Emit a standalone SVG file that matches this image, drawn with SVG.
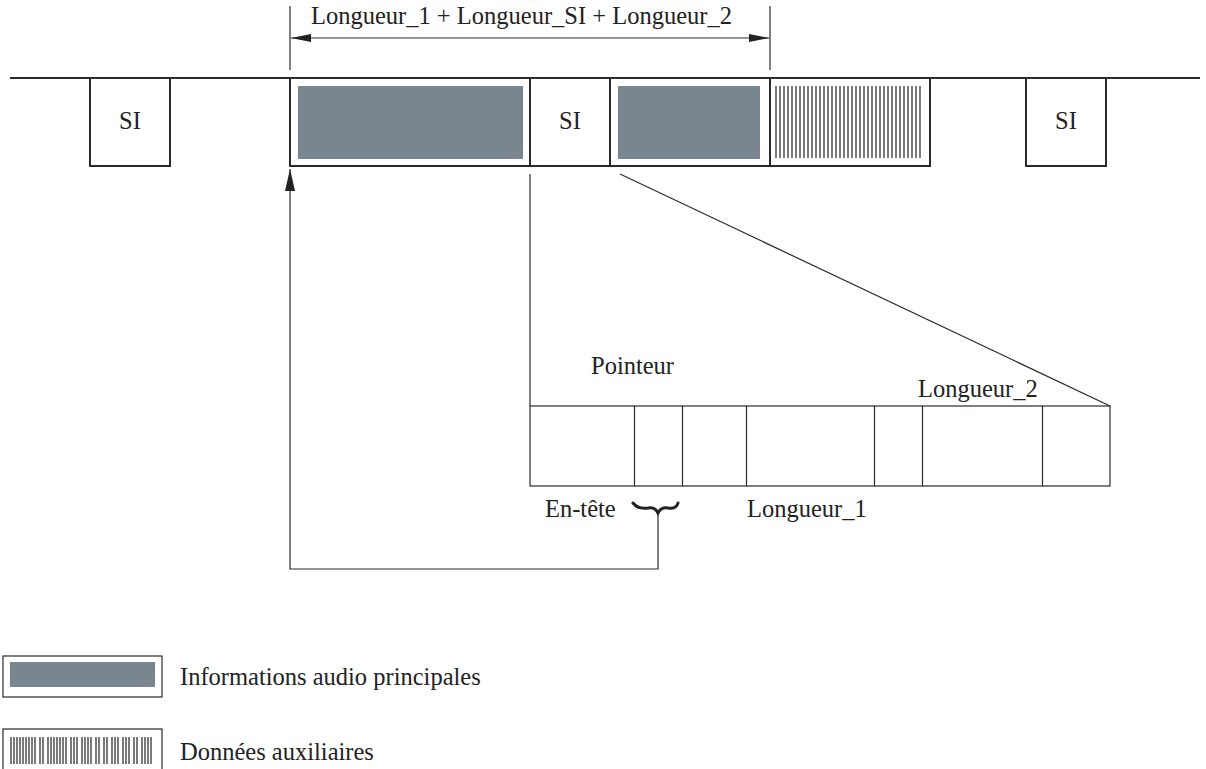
<svg xmlns="http://www.w3.org/2000/svg" width="1206" height="769" viewBox="0 0 1206 769">
<defs>
<style>
text{font-family:"Liberation Serif","Times New Roman",serif;font-size:24.5px;fill:#222}
.box{fill:none;stroke:#2a2a2a;stroke-width:2}
.thin{fill:none;stroke:#2a2a2a;stroke-width:1.2}
.gray{fill:#7a868f}
.hatch line{stroke:#222;stroke-width:1.2}
.conn{fill:none;stroke:#2a2a2a;stroke-width:1.2}
</style>
<marker id="ah" viewBox="0 0 22 10" refX="22" refY="5" markerWidth="22" markerHeight="10" markerUnits="userSpaceOnUse" orient="auto">
<path d="M0,0 L22,5 L0,10 Z" fill="#222"/>
</marker>
<marker id="ahs" viewBox="0 0 20 8" refX="20" refY="4" markerWidth="20" markerHeight="8" markerUnits="userSpaceOnUse" orient="auto-start-reverse">
<path d="M0,0 L20,4 L0,8 Z" fill="#222"/>
</marker>
</defs>
<rect width="1206" height="769" fill="#fff"/>

<g id="baseline">
<line x1="10" y1="78" x2="1200" y2="78" stroke="#2a2a2a" stroke-width="2"/>
</g>

<g id="si-left">
<rect class="box" x="90" y="78" width="80" height="88"/>
<text x="130" y="129" text-anchor="middle">SI</text>
</g>

<g id="frame">
<rect class="box" x="290" y="78" width="640" height="88"/>
<line class="box" x1="530" y1="78" x2="530" y2="166"/>
<line class="box" x1="610" y1="78" x2="610" y2="166"/>
<line class="box" x1="770" y1="78" x2="770" y2="166"/>
<rect class="gray" x="298" y="86" width="225" height="73"/>
<text x="570" y="129" text-anchor="middle">SI</text>
<rect class="gray" x="618" y="86" width="142" height="73"/>
<g class="hatch" id="aux-hatch">
<line x1="776" y1="86" x2="776" y2="158"/><line x1="780" y1="86" x2="780" y2="158"/><line x1="784" y1="86" x2="784" y2="158"/><line x1="788" y1="86" x2="788" y2="158"/><line x1="792" y1="86" x2="792" y2="158"/><line x1="796" y1="86" x2="796" y2="158"/><line x1="800" y1="86" x2="800" y2="158"/><line x1="804" y1="86" x2="804" y2="158"/><line x1="808" y1="86" x2="808" y2="158"/><line x1="812" y1="86" x2="812" y2="158"/><line x1="816" y1="86" x2="816" y2="158"/><line x1="820" y1="86" x2="820" y2="158"/><line x1="824" y1="86" x2="824" y2="158"/><line x1="828" y1="86" x2="828" y2="158"/><line x1="832" y1="86" x2="832" y2="158"/><line x1="836" y1="86" x2="836" y2="158"/><line x1="840" y1="86" x2="840" y2="158"/><line x1="844" y1="86" x2="844" y2="158"/><line x1="848" y1="86" x2="848" y2="158"/><line x1="852" y1="86" x2="852" y2="158"/><line x1="856" y1="86" x2="856" y2="158"/><line x1="860" y1="86" x2="860" y2="158"/><line x1="864" y1="86" x2="864" y2="158"/><line x1="868" y1="86" x2="868" y2="158"/><line x1="872" y1="86" x2="872" y2="158"/><line x1="876" y1="86" x2="876" y2="158"/><line x1="880" y1="86" x2="880" y2="158"/><line x1="884" y1="86" x2="884" y2="158"/><line x1="888" y1="86" x2="888" y2="158"/><line x1="892" y1="86" x2="892" y2="158"/><line x1="896" y1="86" x2="896" y2="158"/><line x1="900" y1="86" x2="900" y2="158"/><line x1="904" y1="86" x2="904" y2="158"/><line x1="908" y1="86" x2="908" y2="158"/><line x1="912" y1="86" x2="912" y2="158"/><line x1="916" y1="86" x2="916" y2="158"/><line x1="920" y1="86" x2="920" y2="158"/>
</g>
</g>

<g id="si-right">
<rect class="box" x="1026" y="78" width="80" height="88"/>
<text x="1066" y="129" text-anchor="middle">SI</text>
</g>

<g id="dimension">
<line class="conn" x1="290" y1="6" x2="290" y2="70"/>
<line class="conn" x1="770" y1="6" x2="770" y2="70"/>
<line class="conn" x1="291" y1="38" x2="769" y2="38" marker-start="url(#ahs)" marker-end="url(#ahs)"/>
<text x="311" y="24">Longueur_1 + Longueur_SI + Longueur_2</text>
</g>

<g id="detail">
<rect class="thin" x="530" y="406" width="580" height="80"/>
<line class="thin" x1="634.5" y1="406" x2="634.5" y2="486"/>
<line class="thin" x1="682.5" y1="406" x2="682.5" y2="486"/>
<line class="thin" x1="746.5" y1="406" x2="746.5" y2="486"/>
<line class="thin" x1="874.5" y1="406" x2="874.5" y2="486"/>
<line class="thin" x1="922.5" y1="406" x2="922.5" y2="486"/>
<line class="thin" x1="1042.5" y1="406" x2="1042.5" y2="486"/>
<text x="591" y="374">Pointeur</text>
<text x="918" y="397">Longueur_2</text>
<text x="545" y="517">En-tête</text>
<text x="747" y="517">Longueur_1</text>
<path d="M633,503 C637,508 642,509 648,508 C653,507 656,509 658,513 C660,509 663,507 668,508 C674,509 677,507 678,503" fill="none" stroke="#222" stroke-width="3" stroke-linecap="round"/>
</g>

<g id="connectors">
<line class="conn" x1="530" y1="174" x2="530" y2="406"/>
<line class="conn" x1="620" y1="174" x2="1110" y2="406"/>
<path class="conn" d="M658,514 L658,569 L290,569 L290,169" marker-end="url(#ah)"/>
</g>

<g id="legend-audio">
<rect class="thin" x="3" y="656" width="159" height="41"/>
<rect class="gray" x="10" y="662" width="145" height="25"/>
<text x="180" y="685">Informations audio principales</text>
</g>

<g id="legend-aux">
<rect class="thin" x="3" y="729" width="159" height="50"/>
<g class="hatch">
<line x1="11" y1="737" x2="11" y2="764"/><line x1="14" y1="737" x2="14" y2="764"/><line x1="17" y1="737" x2="17" y2="764"/><line x1="20" y1="737" x2="20" y2="764"/><line x1="23" y1="737" x2="23" y2="764"/><line x1="26" y1="737" x2="26" y2="764"/><line x1="29" y1="737" x2="29" y2="764"/><line x1="32" y1="737" x2="32" y2="764"/><line x1="35" y1="737" x2="35" y2="764"/>
<line x1="40" y1="737" x2="40" y2="764"/><line x1="43" y1="737" x2="43" y2="764"/>
<line x1="48" y1="737" x2="48" y2="764"/><line x1="51" y1="737" x2="51" y2="764"/><line x1="54" y1="737" x2="54" y2="764"/><line x1="57" y1="737" x2="57" y2="764"/><line x1="60" y1="737" x2="60" y2="764"/><line x1="63" y1="737" x2="63" y2="764"/><line x1="66" y1="737" x2="66" y2="764"/>
<line x1="71" y1="737" x2="71" y2="764"/><line x1="74" y1="737" x2="74" y2="764"/><line x1="77" y1="737" x2="77" y2="764"/>
<line x1="82" y1="737" x2="82" y2="764"/><line x1="85" y1="737" x2="85" y2="764"/><line x1="88" y1="737" x2="88" y2="764"/><line x1="91" y1="737" x2="91" y2="764"/>
<line x1="96" y1="737" x2="96" y2="764"/><line x1="99" y1="737" x2="99" y2="764"/>
<line x1="104" y1="737" x2="104" y2="764"/><line x1="107" y1="737" x2="107" y2="764"/>
<line x1="112" y1="737" x2="112" y2="764"/><line x1="115" y1="737" x2="115" y2="764"/><line x1="118" y1="737" x2="118" y2="764"/>
<line x1="123" y1="737" x2="123" y2="764"/><line x1="126" y1="737" x2="126" y2="764"/><line x1="129" y1="737" x2="129" y2="764"/>
<line x1="134" y1="737" x2="134" y2="764"/><line x1="137" y1="737" x2="137" y2="764"/>
<line x1="142" y1="737" x2="142" y2="764"/><line x1="145" y1="737" x2="145" y2="764"/><line x1="148" y1="737" x2="148" y2="764"/><line x1="151" y1="737" x2="151" y2="764"/>
</g>
<text x="180" y="760">Données auxiliaires</text>
</g>
</svg>
